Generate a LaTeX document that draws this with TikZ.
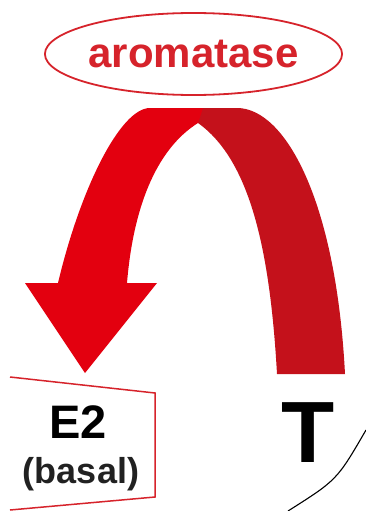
\documentclass[tikz,border=0pt]{standalone}
\usepackage{fontspec}
\setmainfont{Liberation Sans}
\usetikzlibrary{shapes.geometric}
\definecolor{brightred}{HTML}{E3000F}
\definecolor{darkred}{HTML}{C4111B}
\definecolor{labelred}{HTML}{D6232B}
\tikzset{
  enzyme/.style={
    shape = ellipse,
    draw = labelred,
    line width = 1.8pt,
    text = labelred,
    inner sep = 0pt,
    minimum width = 253pt,
    minimum height = 82pt,
    font = \fontsize{42}{42}\selectfont\bfseries
  },
  hormone/.style={
    inner sep = 0pt,
    anchor = base,
    font = \fontsize{47}{47}\selectfont\bfseries
  },
  every picture/.style = {
    x=1pt, y=-1pt
  }
}

\begin{document}
\begin{tikzpicture}
  \useasboundingbox (0,0) rectangle (366,511);
  % enzyme on top of the arch
  \node[enzyme] (arom) at (193.5,54) {aromatase};
  % arch: dark right half first, bright left half with the arrow head on top
  \fill[darkred] (196,108) -- (237,108) .. controls (285,108) and (336,200) .. (345,374)
     -- (277,374) .. controls (270,250) and (250,160) .. (198,123) -- cycle;
  \fill[brightred] (203,108) -- (150,108) .. controls (120,108) and (80,190) .. (58,283)
     -- (25,283) -- (85,373) -- (157,283) -- (127,283)
     .. controls (133,210) and (155,150) .. (198,123) -- cycle;
  % products and substrate
  \node[hormone] (e2) at (78,438) {E2};
  \node[hormone, font=\fontsize{36}{36}\selectfont\bfseries, text=black!87] (basal) at (81,483) {(basal)};
  \node[hormone, font=\fontsize{87}{87}\selectfont\bfseries] (t) at (308,462) {T};
  % open frame round E2
  \coordinate (b1) at (10,377);
  \coordinate (b2) at (155,393);
  \coordinate (b3) at (155,497);
  \coordinate (b4) at (10,510);
  \draw[labelred, line width=1.5pt] (b1) -- (b2) -- (b3) -- (b4);
  % edge of the cell
  \coordinate (c1) at (288,511);
  \coordinate (c2) at (366,430);
  \draw[line width=1.1pt] (c1) .. controls (337,480) .. (c2);
\end{tikzpicture}
\end{document}
